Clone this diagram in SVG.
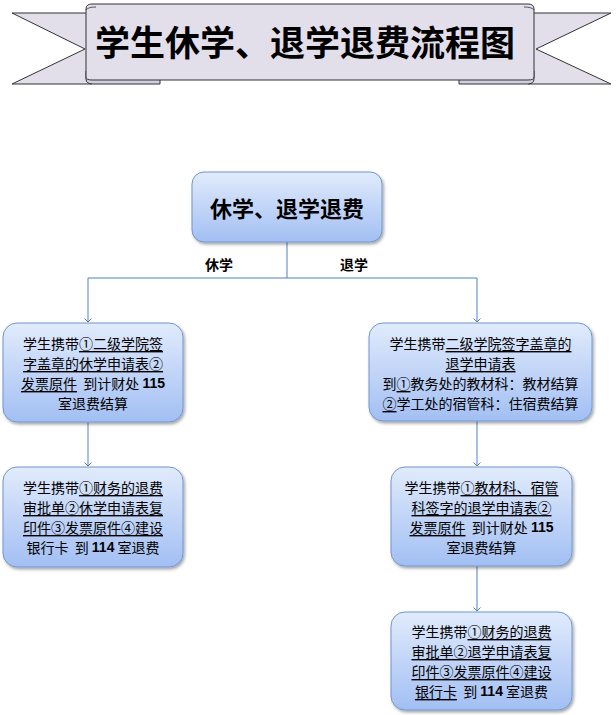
<svg xmlns="http://www.w3.org/2000/svg" width="616" height="715" viewBox="0 0 616 715">
<defs>
<linearGradient id="g" x1="0" y1="0" x2="0" y2="1"><stop offset="0" stop-color="#E1EBFC"/><stop offset="1" stop-color="#A2BFF3"/></linearGradient>
<filter id="sh" x="-10%" y="-10%" width="125%" height="135%"><feDropShadow dx="1.5" dy="2" stdDeviation="1.5" flood-color="#000" flood-opacity="0.35"/></filter>
<marker id="arr" markerWidth="10" markerHeight="10" refX="5" refY="5" orient="auto" markerUnits="userSpaceOnUse" viewBox="0 0 10 10"><path d="M1.5,1.5 L5,5 L1.5,8.5" fill="none" stroke="#4F81BD" stroke-width="1"/></marker>
<style>
.box{fill:url(#g);stroke:#7096CF;stroke-width:1;filter:url(#sh)}
.t{font-family:"Noto Sans CJK SC","Liberation Sans",sans-serif;font-size:14px;fill:#000;text-anchor:middle;white-space:pre;dominant-baseline:central}
.u{text-decoration:underline}
.n{font-family:"Liberation Sans",sans-serif;font-weight:bold}
.conn{stroke:#4F81BD;stroke-width:1;fill:none}
.bn{fill:#E2DEEA;stroke:#333;stroke-width:1}
.fold{fill:#D3CEDF;stroke:#333;stroke-width:1}
</style>
</defs>
<rect width="616" height="715" fill="#fff"/>
<g id="banner">
<path class="bn" d="M12,13 L92,13 L92,84 L12,84 L85,49 Z"/>
<path class="bn" d="M611,13 L528,13 L528,84 L611,84 L536,49 Z"/>
<path class="fold" d="M160,71 L160,84 L93,84 Q86,84 86,79 L86,71 Z"/>
<path class="fold" d="M459,71 L459,84 L527,84 Q534,84 534,79 L534,71 Z"/>
<path class="bn" d="M86,77 L86,9 Q86,4 92,4 L528,4 Q534,4 534,9 L534,77 Q534,80 528,80 L92,80 Q86,80 86,77 Z"/>
<path d="M86,10 Q88,7 96,7" fill="none" stroke="#333" stroke-width="0.8"/>
<path d="M534,10 Q532,7 524,7" fill="none" stroke="#333" stroke-width="0.8"/>
<text x="305" y="40" font-family="'Noto Sans CJK SC',sans-serif" font-size="35" font-weight="bold" text-anchor="middle" dominant-baseline="central" fill="#000">学生休学、退学退费流程图</text>
</g>
<g id="connectors">
<path class="conn" d="M287,242 V278 M88,278 H477"/>
<path class="conn" d="M88,278 V322" marker-end="url(#arr)"/>
<path class="conn" d="M477,278 V322" marker-end="url(#arr)"/>
<path class="conn" d="M88,422 V466" marker-end="url(#arr)"/>
<path class="conn" d="M477,421 V466" marker-end="url(#arr)"/>
<path class="conn" d="M477,566 V611" marker-end="url(#arr)"/>
<text class="t" x="219" y="264" font-weight="bold">休学</text>
<text class="t" x="354" y="264" font-weight="bold">退学</text>
</g>
<g id="node-root">
<rect class="box" x="192" y="172" width="190" height="70" rx="12"/>
<text x="287" y="207" font-family="'Noto Sans CJK SC',sans-serif" font-size="22" font-weight="bold" text-anchor="middle" dominant-baseline="central" fill="#000">休学、退学退费</text>
</g>
<g id="node-l1">
<rect class="box" x="3" y="323" width="180" height="99" rx="14"/>
<text class="t" x="93" y="343">学生携带<tspan class="u">①二级学院签</tspan></text>
<text class="t" x="93" y="363"><tspan class="u">字盖章的休学申请表②</tspan></text>
<text class="t" x="93" y="383"><tspan class="u">发票原件</tspan>  到计财处 <tspan class="n">115</tspan></text>
<text class="t" x="93" y="403">室退费结算</text>
</g>
<g id="node-l2">
<rect class="box" x="3" y="467" width="180" height="100" rx="14"/>
<text class="t" x="93" y="487">学生携带<tspan class="u">①财务的退费</tspan></text>
<text class="t" x="93" y="507"><tspan class="u">审批单②休学申请表复</tspan></text>
<text class="t" x="93" y="527"><tspan class="u">印件③发票原件④建设</tspan></text>
<text class="t" x="93" y="547">银行卡  到 <tspan class="n">114</tspan> 室退费</text>
</g>
<g id="node-r1">
<rect class="box" x="369" y="323" width="223" height="98" rx="14"/>
<text class="t" x="480.5" y="343">学生携带<tspan class="u">二级学院签字盖章的</tspan></text>
<text class="t" x="480.5" y="363"><tspan class="u">退学申请表</tspan></text>
<text class="t" x="480.5" y="383">到<tspan class="u">①</tspan>教务处的教材科：教材结算</text>
<text class="t" x="480.5" y="403"><tspan class="u">②</tspan>学工处的宿管科：住宿费结算</text>
</g>
<g id="node-r2">
<rect class="box" x="391" y="467" width="181" height="99" rx="14"/>
<text class="t" x="481.5" y="487">学生携带<tspan class="u">①教材科、宿管</tspan></text>
<text class="t" x="481.5" y="507"><tspan class="u">科签字的退学申请表②</tspan></text>
<text class="t" x="481.5" y="527"><tspan class="u">发票原件</tspan>  到计财处 <tspan class="n">115</tspan></text>
<text class="t" x="481.5" y="547">室退费结算</text>
</g>
<g id="node-r3">
<rect class="box" x="391" y="612" width="181" height="98" rx="14"/>
<text class="t" x="481.5" y="631">学生携带<tspan class="u">①财务的退费</tspan></text>
<text class="t" x="481.5" y="651"><tspan class="u">审批单②退学申请表复</tspan></text>
<text class="t" x="481.5" y="671"><tspan class="u">印件③发票原件④建设</tspan></text>
<text class="t" x="481.5" y="691"><tspan class="u">银行卡</tspan>  到 <tspan class="n">114</tspan> 室退费</text>
</g>
</svg>
